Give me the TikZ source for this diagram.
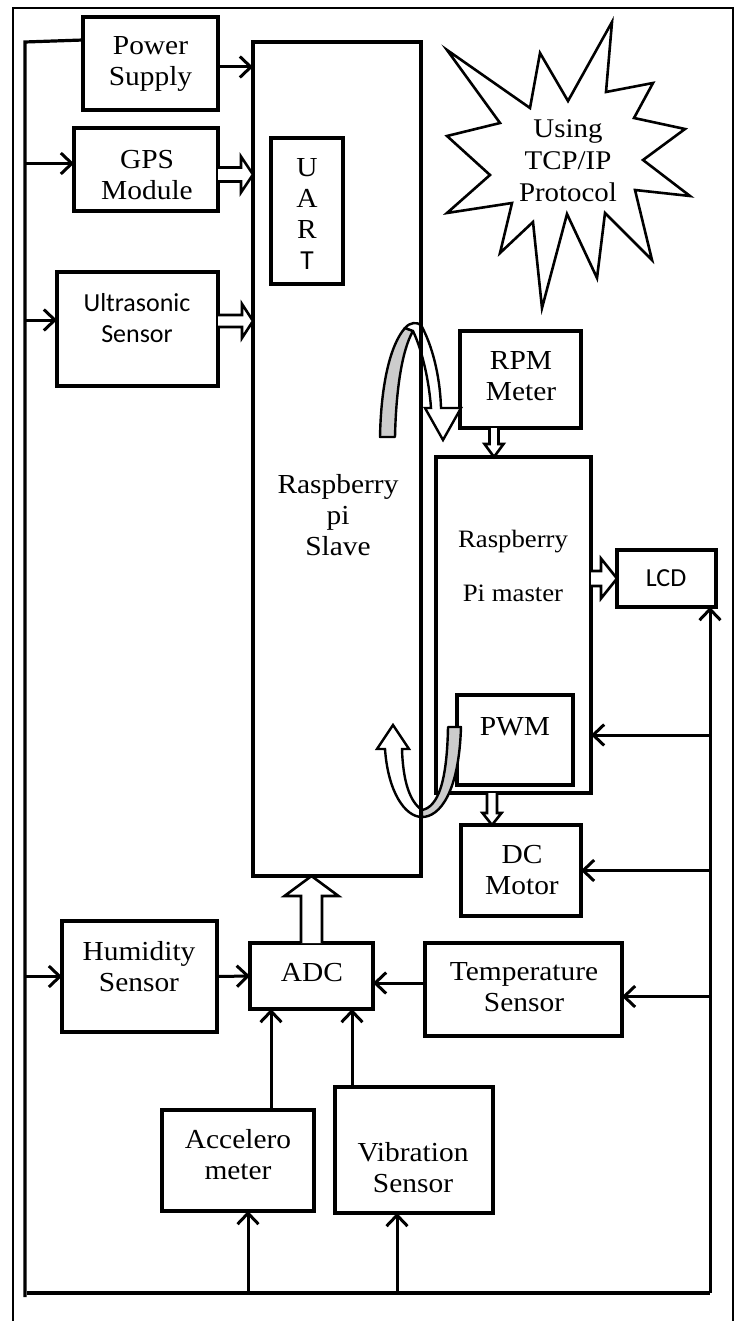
\documentclass[tikz,border=0pt]{standalone}
\usepackage{fontspec}
\setmainfont{Liberation Serif}[FakeStretch=1.07]
\newfontfamily\calib{Carlito}
\usetikzlibrary{arrows.meta,calc}
\tikzset{
  box/.style={draw, line width=3.6pt, inner sep=0pt, outer sep=0pt},
  txt/.style={font=\fontsize{27.5}{31}\selectfont, align=center, inner sep=0pt},
  stxt/.style={font=\calib\fontsize{26}{31}\selectfont, align=center, inner sep=0pt},
  conn/.style={line width=3pt, -{Straight Barb[length=11pt,width=21pt,line width=3pt]}},
  wire/.style={line width=3.2pt},
  hol/.style={line width=2.6pt, fill=white, line join=miter},
  pics/hollow/.style n args={4}{code={
    \draw[hol] (0,#2) -- ({#1-#4},#2) -- ({#1-#4},#3) -- (#1,0) -- ({#1-#4},-#3) -- ({#1-#4},-#2) -- (0,-#2);
  }}
}
\begin{document}
\begin{tikzpicture}[x=1pt,y=-1pt]
\useasboundingbox (0,0) rectangle (739,1321);
% outer frame
\draw[line width=2.6pt] (13,1321) -- (13,8) -- (733,8) -- (733,1321);

% boxes
\node[box, minimum width=135pt, minimum height=93pt] (ps) at (150.5,63.5) {};
\node[box, minimum width=144pt, minimum height=83pt] (gps) at (146,169.5) {};
\node[box, minimum width=161pt, minimum height=114pt] (us) at (137.5,329) {};
\node[box, minimum width=72pt, minimum height=146pt] (uart) at (307,211) {};
\node[box, minimum width=121pt, minimum height=97pt] (rpm) at (520.5,379.5) {};
\node[box, minimum width=155pt, minimum height=336pt] (master) at (513.5,625) {};
\node[box, minimum width=99pt, minimum height=57pt] (lcd) at (666.5,578.5) {};
\node[box, minimum width=116pt, minimum height=90pt] (pwm) at (515,740) {};
\node[box, minimum width=120pt, minimum height=91pt] (dc) at (521,870.5) {};
\node[box, minimum width=155pt, minimum height=111pt] (hum) at (139.5,976.5) {};
\node[box, minimum width=123pt, minimum height=66pt] (adc) at (311.5,976) {};
\node[box, minimum width=197pt, minimum height=93pt] (temp) at (523.5,989.5) {};
\node[box, minimum width=152pt, minimum height=101pt] (acc) at (238,1160.5) {};
\node[box, minimum width=158pt, minimum height=126pt] (vib) at (414,1150) {};

% curved 3D arrows (drawn before slave border)
\draw[line width=2.4pt, fill=black!20, line join=round]
  (380,437) .. controls (381,385) and (390,345) .. (405,328)
  -- (413,331) .. controls (402,350) and (396,390) .. (395,437) -- cycle;
\draw[line width=2.4pt, fill=white, line join=miter]
  (405,328) .. controls (410,322) and (417,322) .. (421,325)
  .. controls (432,345) and (440,375) .. (441,408)
  -- (461,408) -- (443,440) -- (425,408) -- (431,408)
  .. controls (429,380) and (422,350) .. (413,331) -- cycle;

\draw[line width=2.4pt, fill=white, line join=miter]
  (385,749) .. controls (388,792) and (405,817) .. (422,817)
  -- (422,810) .. controls (410,802) and (403,782) .. (402,749)
  -- (409,749) -- (393,725) -- (377,749) -- cycle;
\draw[line width=2.4pt, fill=black!20, line join=round]
  (422,817) .. controls (440,817) and (459,792) .. (461,727)
  -- (448,727) .. controls (447,782) and (438,807) .. (422,810) -- cycle;

% slave box on top
\node[box, minimum width=168pt, minimum height=834pt] (slave) at (337,459) {};

% star
\draw[line width=2.6pt, line join=miter, fill=white] (447,50) -- (530,108) -- (540,53) -- (568,101) -- (612,22) -- (606,92)
  -- (653,83) -- (634,118) -- (685,129) -- (643,160) -- (690,196) -- (635,190)
  -- (652,260) -- (605,213) -- (597,278) -- (567,214) -- (542,308) -- (533,222)
  -- (500,253) -- (512,203) -- (447,213) -- (490,175) -- (447,136) -- (500,123) -- cycle;
\node[txt, font=\fontsize{27}{32}\selectfont] (startxt) at (568,161) {Using\\TCP/IP\\Protocol};

% texts
\node[txt] (pst) at (150.5,64) {Power\\Supply};
\node[txt] (gpst) at (147,175) {GPS\\Module};
\node[stxt] (ust) at (137,318) {Ultrasonic\\Sensor};
\node[txt] (uartt) at (307,214) {U\\A\\R\\{\calib T}};
\node[txt] (slavet) at (338,515) {Raspberry\\pi\\Slave};
\node[txt] (rpmt) at (521,376) {RPM\\Meter};
\node[txt, font=\fontsize{25}{30}\selectfont] (mastert) at (513,566) {Raspberry\\[24pt]Pi master};
\node[stxt] (lcdt) at (666,578) {LCD};
\node[txt] (pwmt) at (515,727) {PWM};
\node[txt] (dct) at (522,870) {DC\\Motor};
\node[txt] (humt) at (139,967) {Humidity\\Sensor};
\node[txt] (adct) at (312,973) {ADC};
\node[txt] (tempt) at (524,987) {Temperature\\Sensor};
\node[txt] (acct) at (238,1155) {Accelero\\meter};
\node[txt] (vibt) at (413,1168) {Vibration\\Sensor};

% bus lines
\coordinate (bTL) at (25,42);
\coordinate (bBL) at (25,1297);
\coordinate (bB0) at (27,1293);
\coordinate (bBR) at (710,1293);
\coordinate (psIn) at (83,40);
\draw[wire] (psIn) -- (bTL) -- (bBL);
\draw[wire] (bB0) -- (bBR);

% inputs from left bus
\draw[conn] ($(gps.west)+(0,-6)$) coordinate (g0) (bTL |- g0) -- (g0);
\draw[conn] ($(us.west)+(0,-9)$) coordinate (u0) (bTL |- u0) -- (u0);
\draw[conn] (bTL |- hum.west) -- (hum.west);

% power supply to slave
\draw[conn] ($(ps.east)+(0,3.5)$) coordinate (p0) -- (slave.west |- p0);

% right bus
\draw[conn] (bBR) -- (bBR |- lcd.south);
\coordinate (mIn) at (591,735);
\draw[conn] (bBR |- mIn) -- (mIn);
\draw[conn] (bBR |- dc.east) -- (dc.east);
\draw[conn] ($(temp.east)+(0,7)$) coordinate (t0) (bBR |- t0) -- (t0);

% bottom bus to sensors
\draw[conn] ($(acc.south)+(10,0)$) coordinate (ac0) (bBR -| ac0) -- (ac0);
\draw[conn] ($(vib.south)+(-17,0)$) coordinate (vb0) (bBR -| vb0) -- (vb0);

% into ADC
\draw[conn] (hum.east) -- (adc.west);
\draw[conn] ($(temp.west)+(0,-6.5)$) coordinate (t1) -- (adc.east |- t1);
\draw[conn] ($(acc.north)+(33,0)$) coordinate (a1) -- (a1 |- adc.south);
\draw[conn] ($(vib.north)+(-62,0)$) coordinate (v1) -- (v1 |- adc.south);

% hollow arrows
\path ($(gps.east)+(0,5)$) pic {hollow={35}{7}{18}{12}};
\path ($(us.east)+(0,-8)$) pic {hollow={35}{6}{17}{11}};
\path ($(rpm.south)+(-26.5,0)$) pic[rotate=-90] {hollow={29}{4.5}{9.5}{13}};
\path (master.east |- lcd.west) pic {hollow={26}{7.5}{20}{16}};
\path ($(master.south)+(-21.5,0)$) pic[rotate=-90] {hollow={32}{5}{9.5}{12}};
\path (adc.north) pic[rotate=90] {hollow={67}{10.5}{27}{20}};
\end{tikzpicture}
\end{document}
